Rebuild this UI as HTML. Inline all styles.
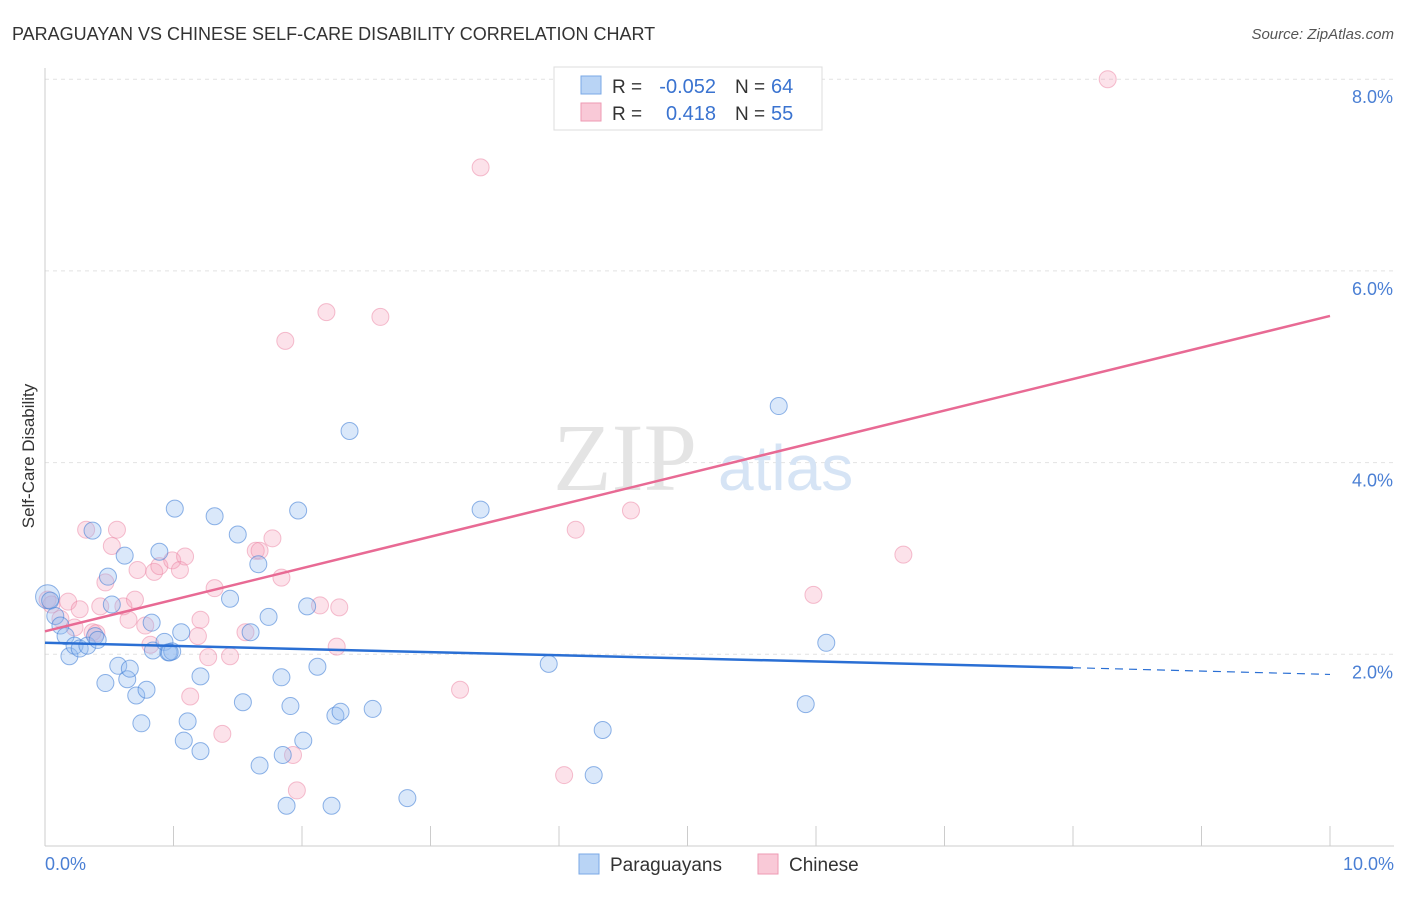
<!DOCTYPE html>
<html><head><meta charset="utf-8"><style>
body{margin:0;background:#fff;font-family:"Liberation Sans",sans-serif;}
</style></head><body>
<svg width="1406" height="892" font-family="Liberation Sans, sans-serif">
<text x="12" y="40" font-size="18" fill="#333">PARAGUAYAN VS CHINESE SELF-CARE DISABILITY CORRELATION CHART</text>
<text x="1394" y="39" font-size="15" fill="#555" font-style="italic" text-anchor="end">Source: ZipAtlas.com</text>
<g id="grid"></g>
<line x1="45" y1="68" x2="45" y2="846" stroke="#ccc"/>
<line x1="45" y1="846" x2="1394" y2="846" stroke="#ccc"/>
<text x="553" y="490" font-size="96" fill="#e4e4e4" font-family="Liberation Serif, serif">ZIP</text>
<text x="718" y="490" font-size="64" fill="#d6e4f5">atlas</text>
<text x="34" y="456" font-size="17" fill="#333" text-anchor="middle" transform="rotate(-90 34 456)">Self-Care Disability</text>
<text x="45" y="870" font-size="18" fill="#4a7fd4">0.0%</text>
<text x="1394" y="870" font-size="18" fill="#4a7fd4" text-anchor="end">10.0%</text>
<g id="marks"></g>
<g>
<rect x="554" y="67" width="268" height="63" fill="#fff" stroke="#ddd"/>
<rect x="581" y="76" width="20" height="18" fill="#b9d4f5" stroke="#7aa8e6"/>
<rect x="581" y="103" width="20" height="18" fill="#f9c9d7" stroke="#ee9ab3"/>
<text x="612" y="93" font-size="19" fill="#333">R =</text>
<text x="716" y="93" font-size="20" fill="#3a73d0" text-anchor="end">-0.052</text>
<text x="735" y="93" font-size="19" fill="#333">N =</text>
<text x="771" y="93" font-size="20" fill="#3a73d0">64</text>
<text x="612" y="120" font-size="19" fill="#333">R =</text>
<text x="716" y="120" font-size="20" fill="#3a73d0" text-anchor="end">0.418</text>
<text x="735" y="120" font-size="19" fill="#333">N =</text>
<text x="771" y="120" font-size="20" fill="#3a73d0">55</text>
</g>
<g>
<rect x="579" y="854" width="20" height="20" fill="#b9d4f5" stroke="#7aa8e6"/>
<text x="610" y="871" font-size="19" fill="#333">Paraguayans</text>
<rect x="758" y="854" width="20" height="20" fill="#f9c9d7" stroke="#ee9ab3"/>
<text x="789" y="871" font-size="19" fill="#333">Chinese</text>
</g>
</svg>
<script>
const yTicks=[2,4,6,8];
const yTickLabels=["2.0%","4.0%","6.0%","8.0%"];
const xTicks=[0,1,2,3,4,5,6,7,8,9,10];
const bluePts=[[0.02,2.6],[0.04,2.56],[0.08,2.4],[0.12,2.3],[0.16,2.19],[0.19,1.98],[0.23,2.09],[0.27,2.06],[0.33,2.09],[0.39,2.19],[0.37,3.29],[0.41,2.15],[0.47,1.7],[0.49,2.81],[0.52,2.52],[0.57,1.88],[0.62,3.03],[0.64,1.74],[0.66,1.85],[0.71,1.57],[0.75,1.28],[0.79,1.63],[0.83,2.33],[0.84,2.04],[0.89,3.07],[0.93,2.13],[0.96,2.02],[0.99,2.03],[1.01,3.52],[1.06,2.23],[1.08,1.1],[1.11,1.3],[1.21,1.77],[1.21,0.99],[1.32,3.44],[1.44,2.58],[1.5,3.25],[1.54,1.5],[1.6,2.23],[1.66,2.94],[1.67,0.84],[1.74,2.39],[1.84,1.76],[1.85,0.95],[1.88,0.42],[1.91,1.46],[1.97,3.5],[2.01,1.1],[2.04,2.5],[2.12,1.87],[2.23,0.42],[2.26,1.36],[2.3,1.4],[2.37,4.33],[2.55,1.43],[2.82,0.5],[3.39,3.51],[3.92,1.9],[4.34,1.21],[4.27,0.74],[5.71,4.59],[5.92,1.48],[6.08,2.12],[0.97,2.02]];
const pinkPts=[[0.02,2.57],[0.05,2.52],[0.12,2.37],[0.18,2.55],[0.23,2.28],[0.27,2.47],[0.32,3.3],[0.37,2.23],[0.4,2.22],[0.43,2.5],[0.47,2.75],[0.52,3.13],[0.56,3.3],[0.61,2.5],[0.65,2.36],[0.7,2.57],[0.72,2.88],[0.78,2.3],[0.82,2.1],[0.85,2.86],[0.89,2.92],[0.99,2.98],[1.05,2.88],[1.09,3.02],[1.13,1.56],[1.21,2.36],[1.19,2.19],[1.27,1.97],[1.32,2.69],[1.38,1.17],[1.44,1.98],[1.56,2.23],[1.64,3.08],[1.67,3.08],[1.77,3.21],[1.84,2.8],[1.87,5.27],[1.93,0.95],[1.96,0.58],[2.14,2.51],[2.19,5.57],[2.27,2.08],[2.29,2.49],[2.61,5.52],[3.23,1.63],[3.39,7.08],[4.04,0.74],[4.13,3.3],[4.56,3.5],[5.98,2.62],[6.68,3.04],[8.27,8.0]];
const blueTrend=[[0,2.12],[8,1.86],[10,1.79]];
const pinkTrend=[[0,2.24],[10,5.53]];
const X=v=>45+v*128.5, Y=v=>846-v*95.85;
const ns="http://www.w3.org/2000/svg";
const grid=document.getElementById('grid'), marks=document.getElementById('marks'), svg=document.querySelector('svg');
function mk(t,a,p){const e=document.createElementNS(ns,t);for(const k in a)e.setAttribute(k,a[k]);(p||marks).appendChild(e);return e;}
yTicks.forEach((t,i)=>{
 const l=mk('line',{x1:45,x2:1394,y1:Y(t),y2:Y(t),stroke:'#e2e2e2','stroke-dasharray':'4,4'},grid);
 
 
 const tx=mk('text',{x:1393,y:Y(t)+24,'font-size':18,fill:'#4a7fd4','text-anchor':'end'},svg);
 tx.textContent=yTickLabels[i];
 
 
});
xTicks.forEach(t=>{
 const l=mk('line',{x1:X(t),x2:X(t),y1:826,y2:846,stroke:'#ccc'},grid);
 
 
});
pinkPts.forEach(p=>{
 const c=mk('circle',{cx:X(p[0]),cy:Y(p[1]),r:8.5,fill:'rgba(244,160,186,0.3)',stroke:'rgba(236,130,162,0.5)','stroke-width':1});
 
 
});
bluePts.forEach((p,i)=>{
 const c=mk('circle',{cx:X(p[0]),cy:Y(p[1]),r:i==0?12:8.5,fill:'rgba(150,190,240,0.35)',stroke:'rgba(70,130,215,0.6)','stroke-width':1});
 
 
});
let b=mk('line',{x1:X(blueTrend[0][0]),y1:Y(blueTrend[0][1]),x2:X(blueTrend[1][0]),y2:Y(blueTrend[1][1]),stroke:'#2a6fd4','stroke-width':2.5});


b=mk('line',{x1:X(blueTrend[1][0]),y1:Y(blueTrend[1][1]),x2:X(blueTrend[2][0]),y2:Y(blueTrend[2][1]),stroke:'#2a6fd4','stroke-width':1.2,'stroke-dasharray':'8,6'});


const pk=mk('line',{x1:X(pinkTrend[0][0]),y1:Y(pinkTrend[0][1]),x2:X(pinkTrend[1][0]),y2:Y(pinkTrend[1][1]),stroke:'#e86a94','stroke-width':2.5});


</script>
</body></html>
